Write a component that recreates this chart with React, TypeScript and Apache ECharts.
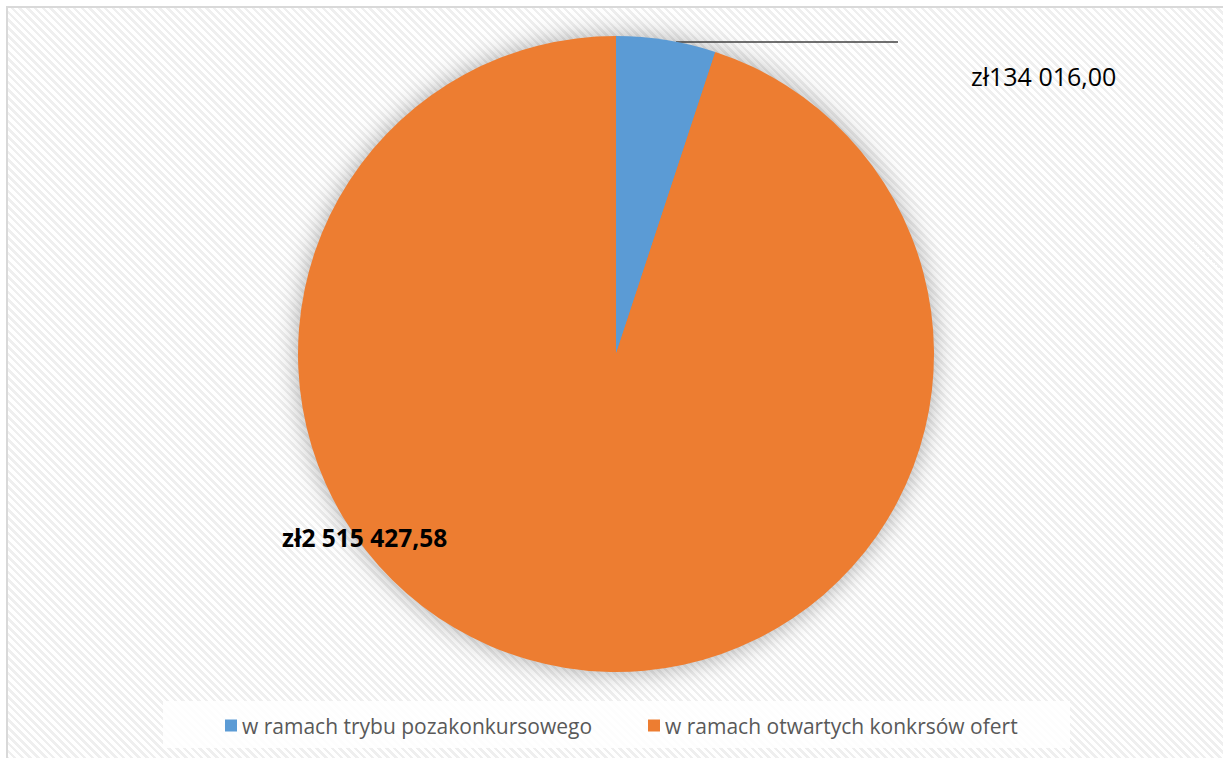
import React, { useEffect, useRef } from "react";
import * as echarts from "echarts";

const categories = ["w ramach trybu pozakonkursowego", "w ramach otwartych konkrsów ofert"];
const values = [134016.0, 2515427.58];
const colors = ["#5b9bd5", "#ed7d31"];

const fmt = (v: number) => {
  const [i, d] = v.toFixed(2).split(".");
  return "zł" + i.replace(/\B(?=(\d{3})+(?!\d))/g, " ") + "," + d;
};

export default function App() {
  const ref = useRef<HTMLDivElement>(null);
  useEffect(() => {
    document.body.style.margin = "0";
    const chart = echarts.init(ref.current!, null, { renderer: "svg" });
    chart.setOption({
      animation: false,
      textStyle: { fontFamily: "Open Sans" },
      graphic: [
        {
          type: "rect",
          shape: { x: 163, y: 701, width: 907, height: 47 },
          style: { fill: "#ffffff", opacity: 0.85 },
          z: -1,
        },
        {
          type: "circle",
          shape: { cx: 616, cy: 354, r: 317 },
          style: { fill: "#ed7d31", shadowBlur: 26, shadowColor: "rgba(0,0,0,0.35)" },
          z: 0,
          silent: true,
        },
      ],
      legend: {
        left: 220,
        top: 710,
        itemWidth: 12,
        itemHeight: 12,
        itemGap: 56,
        icon: "rect",
        textStyle: { fontSize: 21, color: "#595959", fontFamily: "Open Sans" },
        data: categories,
      },
      series: [
        {
          type: "pie",
          z: 3,
          center: [616, 354],
          radius: 318,
          startAngle: 90,
          clockwise: true,
          data: categories.map((c, i) => ({
            name: c,
            value: values[i],
            itemStyle: { color: colors[i] },
            label:
              i === 0
                ? { fontSize: 25, color: "#000", fontWeight: "normal" }
                : { fontSize: 24.5, color: "#000", fontWeight: "bold" },
            labelLine: { show: i === 0 },
          })),
          itemStyle: { borderWidth: 0 },
          label: {
            show: true,
            position: "outside",
            formatter: (p: any) => fmt(p.value),
            fontFamily: "Open Sans",
          },
          labelLine: {
            show: true,
            lineStyle: { color: "#404040", width: 1.3 },
          },
          labelLayout: (params: any) => {
            if (params.dataIndex === 0) {
              return {
                x: 971,
                y: 76,
                align: "left",
                verticalAlign: "middle",
                labelLinePoints: [
                  [676, 42],
                  [787, 42],
                  [898, 42],
                ],
              };
            }
            return { x: 282, y: 537, align: "left", verticalAlign: "middle" };
          },
          emphasis: { disabled: true },
        },
      ],
    });
    return () => chart.dispose();
  }, []);
  return (
    <div style={{ position: "fixed", left: 0, top: 0, width: 1223, height: 758, background: "#fff", overflow: "hidden" }}>
      <div
        style={{
          position: "absolute",
          left: 6,
          top: 6,
          width: 1240,
          height: 780,
          border: "2px solid #d9d9d9",
          background:
            "repeating-linear-gradient(45deg, #ffffff 0px, #ffffff 3px, #efefef 3px, #efefef 5.5px)",
        }}
      />
      <div ref={ref} style={{ position: "absolute", left: 0, top: 0, width: 1223, height: 758 }} />
    </div>
  );
}
